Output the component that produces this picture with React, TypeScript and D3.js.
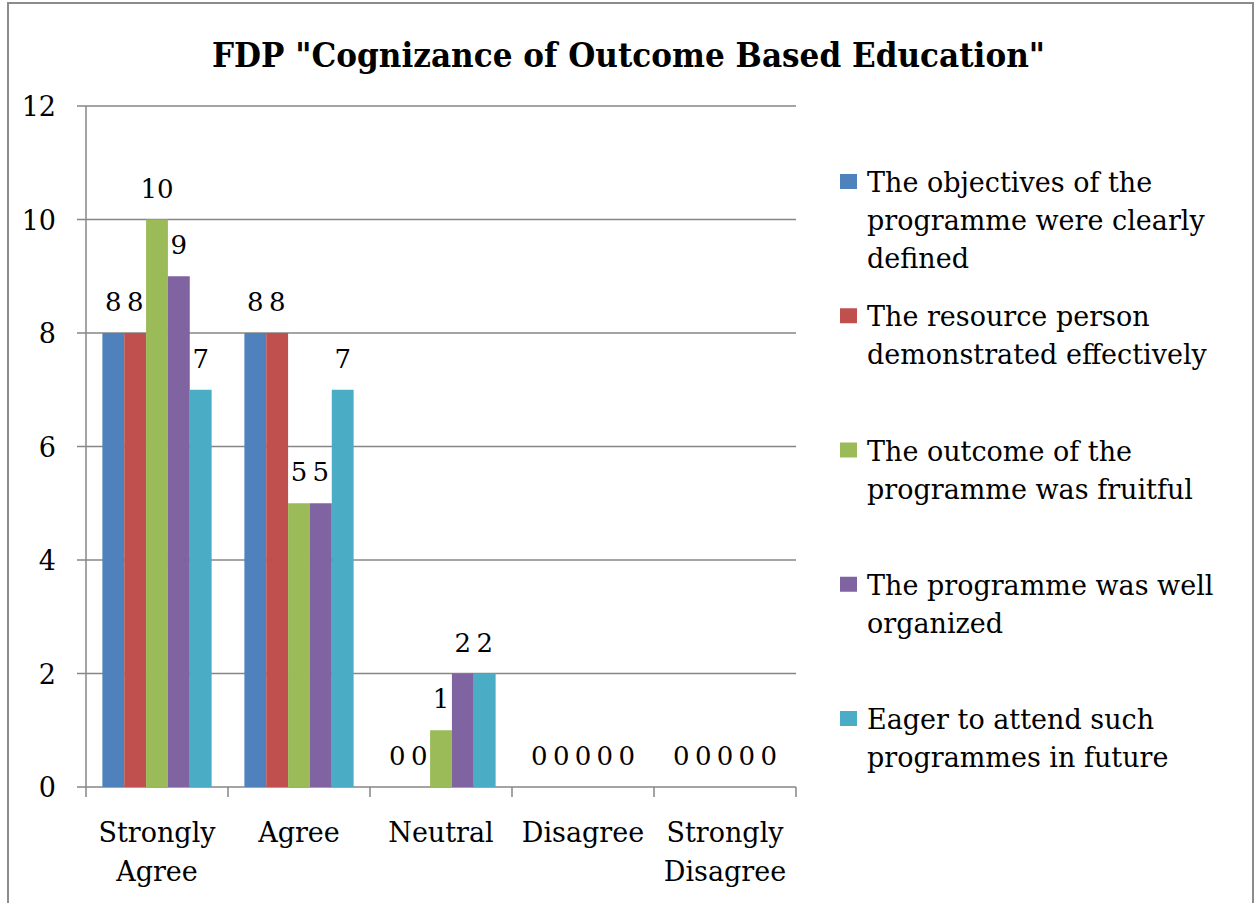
import React from 'react';
import * as d3 from 'd3';

// chart data
const categories = ['Strongly Agree', 'Agree', 'Neutral', 'Disagree', 'Strongly Disagree'];
const categoryLines = [['Strongly', 'Agree'], ['Agree'], ['Neutral'], ['Disagree'], ['Strongly', 'Disagree']];
const seriesNames = [
	'The objectives of the programme were clearly defined',
	'The resource person demonstrated effectively',
	'The outcome of the programme was fruitful',
	'The programme was well organized',
	'Eager to attend such programmes in future',
];
const legendLines = [
	['The objectives of the', 'programme were clearly', 'defined'],
	['The resource person', 'demonstrated effectively'],
	['The outcome of the', 'programme was fruitful'],
	['The programme was well', 'organized'],
	['Eager to attend such', 'programmes in future'],
];
const objectivesValues = [8, 8, 0, 0, 0];
const resourceValues = [8, 8, 0, 0, 0];
const outcomeValues = [10, 5, 1, 0, 0];
const organizedValues = [9, 5, 2, 0, 0];
const eagerValues = [7, 7, 2, 0, 0];
const seriesValues = [objectivesValues, resourceValues, outcomeValues, organizedValues, eagerValues];
const colors = ['#4F81BD', '#C0504D', '#9BBB59', '#8064A2', '#4BACC6'];
const yTicks = [0, 2, 4, 6, 8, 10, 12];

const W = 1255;
const H = 903;
const FONT = '"DejaVu Serif", serif';
const GRID = '#868686';

export default function App() {
	const plot = { left: 86, right: 796, top: 106, bottom: 787 };

	const x = d3.scaleBand<string>().domain(categories).range([plot.left, plot.right]).paddingInner(0).paddingOuter(0);
	// excel gap width 150% -> inner band holds 5 bars, 0.75 bar gap each side
	const bw = x.bandwidth() / (seriesNames.length + 1.5);
	const xs = d3.scaleBand<number>().domain(d3.range(seriesNames.length))
		.range([bw * 0.75, x.bandwidth() - bw * 0.75]).padding(0);
	const y = d3.scaleLinear().domain([0, 12]).range([plot.bottom, plot.top]);

	const legendY = d3.scalePoint<number>().domain(d3.range(seriesNames.length)).range([192, 729]);
	const boundaries = d3.range(categories.length + 1).map(i => plot.left + i * x.bandwidth());

	return (
		<div style={{ position: 'absolute', left: 0, top: 0 }}>
			<svg width={W} height={H} style={{ display: 'block', background: '#fff' }} fontFamily={FONT}>
				{/* chart border */}
				<rect x={8} y={3} width={1245} height={H + 10} fill="#fff" stroke="#8c8c8c" strokeWidth={2} />

				{/* title squeezed to the reference width */}
				<text x={212} y={67} fontSize={34} fontWeight="bold" textLength={833} lengthAdjust="spacingAndGlyphs">
					FDP "Cognizance of Outcome Based Education"
				</text>

				{/* gridlines + y axis */}
				{yTicks.map(t => (
					<g key={t}>
						<line x1={plot.left - 9} x2={plot.right} y1={y(t)} y2={y(t)} stroke={GRID} strokeWidth={1.5} />
						<text x={56} y={y(t) + 10} textAnchor="end" fontSize={27}>{t}</text>
					</g>
				))}
				<line x1={plot.left} x2={plot.left} y1={plot.top} y2={plot.bottom} stroke={GRID} strokeWidth={1.5} />
				{boundaries.map((bx, i) => (
					<line key={i} x1={bx} x2={bx} y1={plot.bottom} y2={plot.bottom + 10} stroke={GRID} strokeWidth={1.5} />
				))}

				{/* bars */}
				{categories.map((c, ci) => (
					<g key={c} transform={`translate(${x(c)},0)`}>
						{seriesValues.map((vals, si) => {
							const v = vals[ci];
							const bx = xs(si)!;
							return (
								<g key={si}>
									{v > 0 && <rect x={bx} y={y(v)} width={xs.bandwidth()} height={y(0) - y(v)} fill={colors[si]} />}
									<text x={bx + xs.bandwidth() / 2} y={y(v) - 22} textAnchor="middle" fontSize={26}>{v}</text>
								</g>
							);
						})}
					</g>
				))}

				{/* category labels */}
				{categories.map((c, ci) => (
					<text key={c} textAnchor="middle" fontSize={27}>
						{categoryLines[ci].map((ln, li) => (
							<tspan key={li} x={x(c)! + x.bandwidth() / 2} y={842 + li * 39}>{ln}</tspan>
						))}
					</text>
				))}

				{/* legend */}
				{seriesNames.map((s, si) => {
					const by = legendY(si)!;
					return (
						<g key={s}>
							<rect x={840} y={by - 18} width={17} height={15} fill={colors[si]} />
							<text fontSize={27}>
								{legendLines[si].map((ln, li) => (
									<tspan key={li} x={867} y={by + li * 38}>{ln}</tspan>
								))}
							</text>
						</g>
					);
				})}
			</svg>
		</div>
	);
}
